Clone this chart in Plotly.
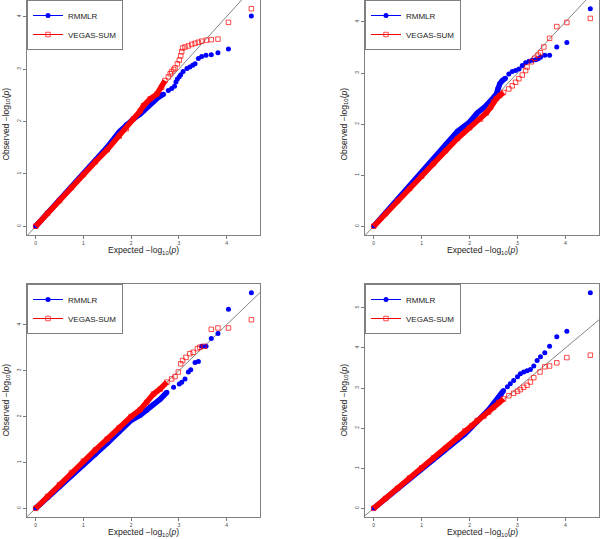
import plotly.graph_objects as go

# ---------------- data ----------------
# Panel 1 (top-left)
p1_rmmlr_x = [0, 0.25, 0.5, 0.75, 1.0, 1.25, 1.5, 1.75, 1.9, 2.05, 2.19, 2.26, 2.36, 2.47, 2.57, 2.68, 2.78, 2.85, 2.91, 2.94, 2.97, 3.01, 3.04, 3.09, 3.17, 3.23, 3.29, 3.34, 3.41, 3.48, 3.57, 3.68, 3.82, 4.04, 4.52]
p1_rmmlr_y = [0, 0.25, 0.5, 0.75, 1.0, 1.26, 1.51, 1.80, 1.94, 2.05, 2.14, 2.20, 2.30, 2.38, 2.46, 2.52, 2.59, 2.63, 2.67, 2.75, 2.81, 2.85, 2.89, 2.95, 3.01, 3.04, 3.07, 3.10, 3.20, 3.24, 3.26, 3.27, 3.31, 3.38, 4.01]
p1_vegas_x = [0, 0.25, 0.5, 0.75, 1.0, 1.25, 1.5, 1.75, 1.9, 2.05, 2.19, 2.26, 2.40, 2.54, 2.64, 2.71, 2.78, 2.82, 2.85, 2.89, 2.92, 2.97, 3.01, 3.04, 3.06, 3.08, 3.13, 3.20, 3.27, 3.34, 3.41, 3.48, 3.58, 3.68, 3.82, 4.04, 4.52]
p1_vegas_y = [0, 0.25, 0.49, 0.74, 0.99, 1.23, 1.46, 1.72, 1.86, 2.05, 2.20, 2.30, 2.43, 2.52, 2.65, 2.78, 2.85, 2.91, 2.95, 2.99, 3.02, 3.10, 3.17, 3.25, 3.33, 3.40, 3.42, 3.44, 3.47, 3.49, 3.51, 3.53, 3.55, 3.56, 3.57, 3.89, 4.15]

# Panel 2 (top-right)
p2_rmmlr_x = [0, 0.25, 0.5, 0.75, 1.0, 1.25, 1.5, 1.75, 2.0, 2.16, 2.30, 2.42, 2.50, 2.56, 2.59, 2.63, 2.68, 2.75, 2.82, 2.89, 2.96, 3.03, 3.10, 3.17, 3.24, 3.31, 3.38, 3.43, 3.48, 3.57, 3.67, 3.82, 4.03, 4.52]
p2_rmmlr_y = [0, 0.26, 0.52, 0.78, 1.04, 1.32, 1.60, 1.86, 2.04, 2.22, 2.32, 2.42, 2.52, 2.59, 2.70, 2.79, 2.85, 2.90, 2.98, 3.03, 3.05, 3.08, 3.15, 3.20, 3.23, 3.25, 3.26, 3.28, 3.31, 3.35, 3.35, 3.51, 3.60, 4.26]
p2_vegas_x = [0, 0.25, 0.5, 0.75, 1.0, 1.25, 1.5, 1.75, 2.0, 2.23, 2.35, 2.44, 2.50, 2.56, 2.63, 2.71, 2.82, 2.89, 2.96, 3.03, 3.10, 3.17, 3.20, 3.29, 3.36, 3.43, 3.48, 3.55, 3.67, 3.82, 4.03, 4.52]
p2_vegas_y = [0, 0.25, 0.50, 0.74, 0.98, 1.23, 1.48, 1.72, 1.93, 2.10, 2.22, 2.33, 2.44, 2.50, 2.56, 2.62, 2.69, 2.75, 2.82, 2.89, 2.96, 3.05, 3.12, 3.22, 3.29, 3.35, 3.40, 3.51, 3.68, 3.91, 3.99, 4.07]

# Panel 3 (bottom-left)
p3_rmmlr_x = [0, 0.25, 0.5, 0.75, 1.0, 1.25, 1.5, 1.75, 2.0, 2.19, 2.33, 2.47, 2.61, 2.75, 2.89, 3.01, 3.06, 3.13, 3.20, 3.25, 3.34, 3.41, 3.48, 3.57, 3.68, 3.82, 4.04, 4.52]
p3_rmmlr_y = [0, 0.23, 0.47, 0.71, 0.95, 1.18, 1.42, 1.67, 1.92, 2.03, 2.14, 2.27, 2.38, 2.53, 2.64, 2.71, 2.75, 2.82, 2.97, 3.02, 3.18, 3.20, 3.53, 3.53, 3.70, 3.81, 4.34, 4.70]
p3_vegas_x = [0, 0.25, 0.5, 0.75, 1.0, 1.25, 1.5, 1.75, 2.0, 2.19, 2.33, 2.47, 2.61, 2.75, 2.85, 2.92, 2.99, 3.04, 3.08, 3.15, 3.23, 3.30, 3.39, 3.44, 3.53, 3.68, 3.82, 4.04, 4.52]
p3_vegas_y = [0, 0.26, 0.52, 0.78, 1.03, 1.27, 1.51, 1.76, 2.00, 2.15, 2.31, 2.49, 2.60, 2.75, 2.82, 2.87, 2.97, 3.15, 3.22, 3.29, 3.37, 3.40, 3.48, 3.51, 3.53, 3.90, 3.93, 3.93, 4.11]

# Panel 4 (bottom-right)
p4_rmmlr_x = [0, 0.25, 0.5, 0.75, 1.0, 1.25, 1.5, 1.75, 1.9, 2.05, 2.16, 2.30, 2.40, 2.49, 2.58, 2.66, 2.71, 2.79, 2.85, 2.92, 3.00, 3.06, 3.13, 3.20, 3.27, 3.34, 3.41, 3.48, 3.57, 3.67, 3.82, 4.03, 4.52]
p4_rmmlr_y = [0, 0.25, 0.5, 0.75, 1.0, 1.24, 1.48, 1.71, 1.85, 2.03, 2.19, 2.32, 2.46, 2.60, 2.72, 2.84, 2.94, 3.03, 3.11, 3.19, 3.28, 3.36, 3.40, 3.43, 3.46, 3.55, 3.69, 3.78, 3.88, 4.04, 4.28, 4.42, 5.38]
p4_vegas_x = [0, 0.25, 0.5, 0.75, 1.0, 1.25, 1.5, 1.75, 1.9, 2.05, 2.16, 2.30, 2.40, 2.50, 2.61, 2.71, 2.82, 2.92, 3.00, 3.06, 3.13, 3.20, 3.27, 3.34, 3.47, 3.57, 3.67, 3.82, 4.03, 4.52]
p4_vegas_y = [0, 0.25, 0.5, 0.76, 1.01, 1.26, 1.50, 1.76, 1.93, 2.06, 2.19, 2.30, 2.40, 2.52, 2.64, 2.73, 2.81, 2.87, 2.92, 2.96, 3.02, 3.07, 3.15, 3.26, 3.40, 3.53, 3.55, 3.63, 3.76, 3.82]

x_ticks = [0, 1, 2, 3, 4]
y_ticks_a = [0, 1, 2, 3, 4]
y_ticks_b = [0, 1, 2, 3, 4, 5]
diag = [-1, 6]
series_names = ["RMMLR", "VEGAS-SUM"]

# ---------------- styling / layout ----------------
W, H = 600, 539
FONT = "Liberation Sans, Arial, sans-serif"
BLUE = "#0000FF"
RED = "#FF0000"
BAND_MAX = 2.75  # dense part drawn as a solid band

panels = [
    dict(rx=p1_rmmlr_x, ry=p1_rmmlr_y, vx=p1_vegas_x, vy=p1_vegas_y, yt=y_ticks_a, px=(27, 260), py=(0, 235)),
    dict(rx=p2_rmmlr_x, ry=p2_rmmlr_y, vx=p2_vegas_x, vy=p2_vegas_y, yt=y_ticks_a, px=(365, 599), py=(0, 235)),
    dict(rx=p3_rmmlr_x, ry=p3_rmmlr_y, vx=p3_vegas_x, vy=p3_vegas_y, yt=y_ticks_a, px=(27, 260), py=(284, 517)),
    dict(rx=p4_rmmlr_x, ry=p4_rmmlr_y, vx=p4_vegas_x, vy=p4_vegas_y, yt=y_ticks_b, px=(365, 599), py=(284, 517)),
]

fig = go.Figure()
layout = {}
annotations = []


def rng(vals):
    lo, hi = min(vals), max(vals)
    s = hi - lo
    return [lo - 0.04 * s, hi + 0.04 * s]


for i, p in enumerate(panels, start=1):
    sfx = "" if i == 1 else str(i)
    xa, ya = "x" + sfx, "y" + sfx
    leg = "legend" + sfx
    xdom = [p["px"][0] / W, p["px"][1] / W]
    ydom = [1 - p["py"][1] / H, 1 - p["py"][0] / H]

    # reference diagonal
    fig.add_trace(go.Scatter(x=diag, y=diag, mode="lines", line=dict(color="#666666", width=0.8),
                             showlegend=False, hoverinfo="skip", xaxis=xa, yaxis=ya))

    for name, xs, ys, col, sym, filled in [
        (series_names[0], p["rx"], p["ry"], BLUE, "circle", True),
        (series_names[1], p["vx"], p["vy"], RED, "square-open", False),
    ]:
        bx = [a for a in xs if a <= BAND_MAX]
        by = [b for a, b in zip(xs, ys) if a <= BAND_MAX]
        fig.add_trace(go.Scatter(x=bx, y=by, mode="lines", line=dict(color=col, width=5.5),
                                 showlegend=False, hoverinfo="skip", xaxis=xa, yaxis=ya))
        mk = dict(symbol=sym, size=5 if filled else 4.5, color=col,
                  line=dict(color=col, width=0.7 if not filled else 0))
        fig.add_trace(go.Scatter(x=xs, y=ys, mode="markers", marker=mk, showlegend=False,
                                 xaxis=xa, yaxis=ya))
        # legend entry
        fig.add_trace(go.Scatter(x=[None], y=[None], mode="lines+markers", name=name,
                                 line=dict(color=col, width=1), marker=mk, legend=leg,
                                 xaxis=xa, yaxis=ya))

    allx = p["rx"] + p["vx"]
    ally = p["ry"] + p["vy"]
    layout["xaxis" + sfx] = dict(domain=xdom, range=rng(allx), anchor=ya, tickvals=x_ticks,
                                 ticks="outside", ticklen=3, tickwidth=0.8, tickcolor="#777",
                                 showline=True, mirror=True, linecolor="#808080", linewidth=1,
                                 showgrid=False, zeroline=False,
                                 tickfont=dict(size=5, color="#444", family=FONT))
    layout["yaxis" + sfx] = dict(domain=ydom, range=rng(ally), anchor=xa, tickvals=p["yt"],
                                 ticks="outside", ticklen=3, tickwidth=0.8, tickcolor="#777",
                                 showline=True, mirror=True, linecolor="#808080", linewidth=1,
                                 showgrid=False, zeroline=False, tickangle=-90,
                                 tickfont=dict(size=5, color="#444", family=FONT))
    layout[leg] = dict(x=xdom[0], y=ydom[1], xanchor="left", yanchor="top",
                       bgcolor="white", bordercolor="#808080", borderwidth=1,
                       font=dict(size=8, family=FONT, color="#222"),
                       itemwidth=30, tracegroupgap=0)

    cx = (p["px"][0] + p["px"][1]) / 2 / W
    xt_y = 1 - (p["py"][1] + 15) / H
    annotations.append(dict(text="Expected \u2212log<sub>10</sub>(<i>p</i>)", x=cx, y=xt_y,
                            xref="paper", yref="paper", showarrow=False,
                            xanchor="center", yanchor="middle",
                            font=dict(size=8.5, family=FONT, color="#222")))
    yt_x = (p["px"][0] - 21) / W
    cy = 1 - ((p["py"][0] + p["py"][1]) / 2 + (7 if p["py"][0] == 0 else 0)) / H
    annotations.append(dict(text="Observed \u2212log<sub>10</sub>(<i>p</i>)", x=yt_x, y=cy,
                            xref="paper", yref="paper", showarrow=False, textangle=-90,
                            xanchor="center", yanchor="middle",
                            font=dict(size=8.5, family=FONT, color="#222")))

fig.update_layout(width=W, height=H, margin=dict(l=0, r=0, t=0, b=0),
                  paper_bgcolor="white", plot_bgcolor="white",
                  annotations=annotations, **layout)

fig.write_html("out.html", config={"displayModeBar": False},
               post_script="document.body.style.margin='0';document.body.style.overflow='hidden';")
